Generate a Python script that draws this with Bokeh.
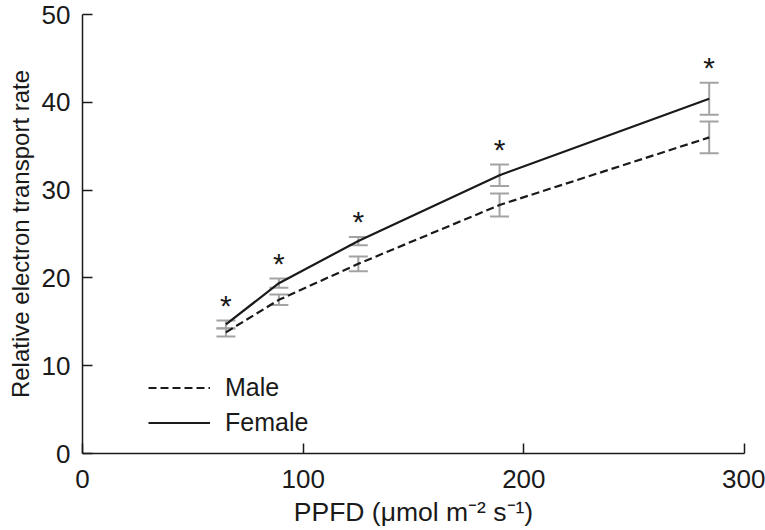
from bokeh.plotting import figure
from bokeh.models import ColumnDataSource, Range1d, Whisker, TeeHead, Legend, LegendItem, FixedTicker
from bokeh.embed import file_html
from bokeh.resources import INLINE
from bokeh.core.properties import value

# ---- data ----
ppfd = [65, 89, 125, 189, 284]
male = [13.8, 17.5, 21.6, 28.3, 36.0]
male_se = [0.47, 0.6, 0.85, 1.3, 1.8]
female = [14.7, 19.4, 24.2, 31.7, 40.4]
female_se = [0.46, 0.53, 0.47, 1.22, 1.82]
significance = ["*", "*", "*", "*", "*"]
x_ticks = [0, 100, 200, 300]
y_ticks = [0, 10, 20, 30, 40, 50]

FONT = "Liberation Sans"
GRAY = "#a3a3a3"
INK = "#1a1a1a"

p = figure(width=765, height=530,
           x_range=Range1d(0, 300), y_range=Range1d(0, 50),
           output_backend="svg", toolbar_location=None,
           min_border_left=82, min_border_right=21,
           min_border_top=14, min_border_bottom=77)
p.xgrid.visible = False
p.ygrid.visible = False
p.outline_line_color = None
p.background_fill_color = "white"
p.border_fill_color = "white"

for ax in (p.xaxis[0], p.yaxis[0]):
    ax.axis_line_color = INK
    ax.axis_line_width = 1.5
    ax.major_tick_line_color = INK
    ax.major_tick_line_width = 1.5
    ax.major_tick_in = 10
    ax.major_tick_out = 0
    ax.minor_tick_line_color = None
    ax.major_label_text_font = FONT
    ax.major_label_text_font_size = "26px"
    ax.major_label_text_color = INK
    ax.axis_label_text_font = FONT
    ax.axis_label_text_font_style = "normal"
    ax.axis_label_text_color = INK

p.xaxis[0].ticker = FixedTicker(ticks=x_ticks)
p.yaxis[0].ticker = FixedTicker(ticks=y_ticks)
p.xaxis[0].major_label_standoff = 16
p.yaxis[0].major_label_standoff = 12
p.xaxis[0].axis_label_standoff = 6
p.yaxis[0].axis_label_standoff = 5
p.xaxis[0].axis_label_text_font_size = "26.5px"
p.yaxis[0].axis_label_text_font_size = "24px"
p.xaxis[0].axis_label = "PPFD (\u03bcmol m\u207b\u00b2 s\u207b\u00b9)"
p.yaxis[0].axis_label = "Relative electron transport rate"

# error bars
src_m = ColumnDataSource(dict(x=ppfd,
                              lo=[m - s for m, s in zip(male, male_se)],
                              hi=[m + s for m, s in zip(male, male_se)]))
src_f = ColumnDataSource(dict(x=ppfd,
                              lo=[m - s for m, s in zip(female, female_se)],
                              hi=[m + s for m, s in zip(female, female_se)]))
for src in (src_m, src_f):
    w = Whisker(source=src, base="x", lower="lo", upper="hi",
                line_color=GRAY, line_width=2,
                upper_head=TeeHead(size=19, line_color=GRAY, line_width=2),
                lower_head=TeeHead(size=19, line_color=GRAY, line_width=2))
    p.add_layout(w)

rm = p.line(ppfd, male, line_color=INK, line_width=2.2, line_dash="8 4")
rf = p.line(ppfd, female, line_color=INK, line_width=2.2)

# significance asterisks above the female upper bars
star_y = [m + s + 1.75 for m, s in zip(female, female_se)]
p.text(x=ppfd, y=star_y, text=significance, text_align="center",
       text_baseline="alphabetic", text_font=value(FONT),
       text_font_size="30px", text_color=INK)

legend = Legend(items=[LegendItem(label="Male", renderers=[rm]),
                       LegendItem(label="Female", renderers=[rf])],
                location=(66, 16), glyph_width=62, glyph_height=29,
                label_height=29, label_standoff=15, spacing=6, padding=10,
                border_line_color=None, background_fill_alpha=0,
                label_text_font=FONT, label_text_font_size="25px",
                label_text_color=INK)
p.add_layout(legend)

open("out.html", "w").write(file_html(p, INLINE))
